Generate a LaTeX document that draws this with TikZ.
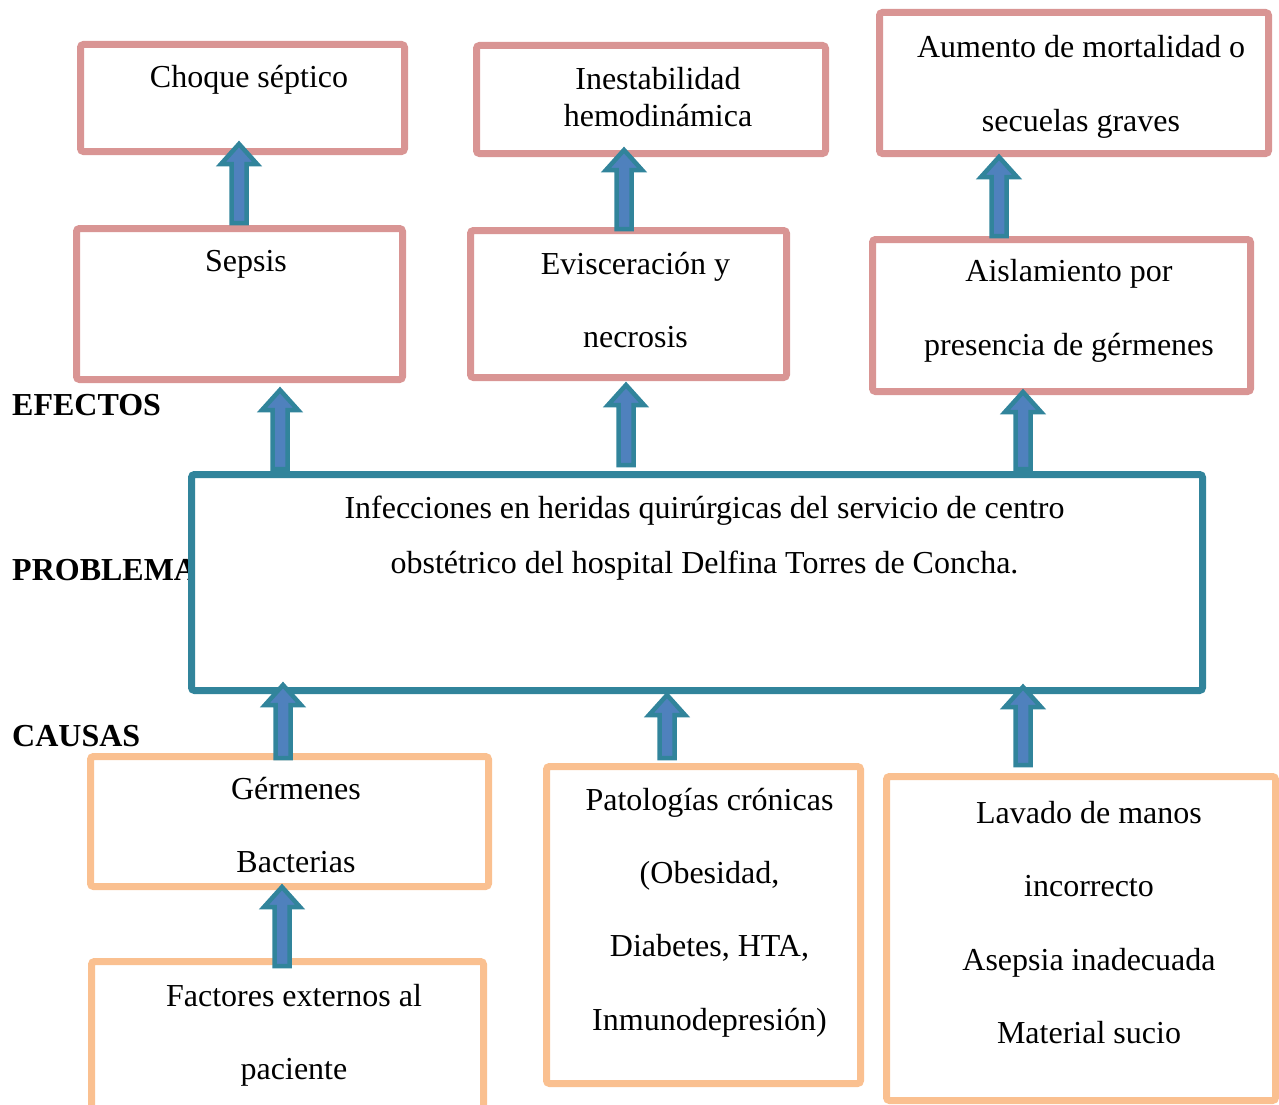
\documentclass[tikz,border=0pt]{standalone}
\usepackage{fontspec}
\setmainfont{Liberation Serif}
\usetikzlibrary{calc}
\definecolor{pinkb}{HTML}{D99594}
\definecolor{orangeb}{HTML}{FAC090}
\definecolor{tealb}{HTML}{31849B}
\definecolor{bluef}{HTML}{4F81BD}
\tikzset{
  box/.style={draw, line width=7pt, rounded corners=3pt, fill=white, inner sep=0pt},
  pinkbox/.style={box, draw=pinkb},
  orangebox/.style={box, draw=orangeb},
  tealbox/.style={box, draw=tealb},
  txt/.style={inner sep=0pt, align=center, font=\fontsize{32}{37}\selectfont},
  lbl/.style={inner sep=0pt, anchor=west, font=\fontsize{32}{37}\selectfont\bfseries},
  blockarrow/.style={draw=tealb, fill=bluef, line width=4.5pt, line join=miter}
}
\newcommand\barrow[2]{%
  \path[blockarrow] let \p1=(#1), \p2=(#2) in
    (\x1-7.5pt,\y1) -- (\x1-7.5pt,\y2-20pt) -- (\x1-18pt,\y2-20pt) -- (\x1,\y2)
    -- (\x1+18pt,\y2-20pt) -- (\x1+7.5pt,\y2-20pt) -- (\x1+7.5pt,\y1) -- cycle;}
\begin{document}
\begin{tikzpicture}[x=1pt,y=-1pt]
\useasboundingbox (0,0) rectangle (1279,1105);
% labels
\node[lbl] (lef) at (12,405) {EFECTOS};
\node[lbl] (lpr) at (12,570) {PROBLEMA};
\node[lbl] (lca) at (12,736) {CAUSAS};
% effect boxes
\node[pinkbox, minimum width=324pt, minimum height=107pt] (b1) at (242.5,98) {};
\node[pinkbox, minimum width=349pt, minimum height=108pt] (b2) at (651,99.5) {};
\node[pinkbox, minimum width=389pt, minimum height=141pt] (b3) at (1074,83) {};
\node[pinkbox, minimum width=326pt, minimum height=151pt] (b4) at (239.5,304) {};
\node[pinkbox, minimum width=316pt, minimum height=147pt] (b5) at (628.5,304) {};
\node[pinkbox, minimum width=378pt, minimum height=152pt] (b6) at (1061.5,315.5) {};
% problem box
\node[tealbox, minimum width=1011pt, minimum height=216pt] (p) at (697,582.5) {};
% cause boxes
\node[orangebox, minimum width=398pt, minimum height=130pt] (c1) at (289.5,821.5) {};
\node[orangebox, minimum width=392pt, minimum height=155pt] (c2) at (287.5,1039) {};
\node[orangebox, minimum width=314pt, minimum height=317pt] (c3) at (703.5,925) {};
\node[orangebox, minimum width=389pt, minimum height=324pt] (c4) at (1081,938.5) {};
% texts
\node[txt] (t1) at (249,80) {Choque séptico};
\node[txt] (t2) at (658,97.5) {Inestabilidad\\hemodinámica};
\node[txt, font=\fontsize{32}{74}\selectfont] (t3) at (1081,87) {Aumento de mortalidad o\\secuelas graves};
\node[txt] (t4) at (246,264) {Sepsis};
\node[txt, font=\fontsize{32}{73}\selectfont] (t5) at (635.5,300.5) {Evisceración y\\necrosis};
\node[txt, font=\fontsize{32}{74}\selectfont] (t6) at (1069,311) {Aislamiento por\\presencia de gérmenes};
\node[txt, font=\fontsize{32}{55}\selectfont] (tp) at (704.5,538.5) {Infecciones en heridas quirúrgicas del servicio de centro\\obstétrico del hospital Delfina Torres de Concha.};
\node[txt, font=\fontsize{32}{73}\selectfont] (tc1) at (296,825.5) {Gérmenes\\Bacterias};
\node[txt, font=\fontsize{32}{73}\selectfont] (tc2) at (294,1035.5) {Factores externos al\\paciente};
\node[txt, font=\fontsize{32}{73.3}\selectfont] (tc3) at (709.5,912.5) {Patologías crónicas\\(Obesidad,\\Diabetes, HTA,\\Inmunodepresión)};
\node[txt, font=\fontsize{32}{73.3}\selectfont] (tc4) at (1089,922.5) {Lavado de manos\\incorrecto\\Asepsia inadecuada\\Material sucio};
% arrow end coordinates
\coordinate (a1b) at (239,223);  \coordinate (a1t) at (239,144);
\coordinate (a2b) at (624,229);  \coordinate (a2t) at (624,150);
\coordinate (a3b) at (999,236);  \coordinate (a3t) at (999,157);
\coordinate (a4b) at (280,469);  \coordinate (a4t) at (280,390);
\coordinate (a5b) at (626,465);  \coordinate (a5t) at (626,385);
\coordinate (a6b) at (1023,469); \coordinate (a6t) at (1023,392);
\coordinate (a7b) at (283,758);  \coordinate (a7t) at (283,685);
\coordinate (a8b) at (667,758);  \coordinate (a8t) at (667,695);
\coordinate (a9b) at (1023,765); \coordinate (a9t) at (1023,687);
\coordinate (a10b) at (282,966); \coordinate (a10t) at (282,887);
\barrow{a1b}{a1t}
\barrow{a2b}{a2t}
\barrow{a3b}{a3t}
\barrow{a4b}{a4t}
\barrow{a5b}{a5t}
\barrow{a6b}{a6t}
\barrow{a7b}{a7t}
\barrow{a8b}{a8t}
\barrow{a9b}{a9t}
\barrow{a10b}{a10t}
\end{tikzpicture}
\end{document}
